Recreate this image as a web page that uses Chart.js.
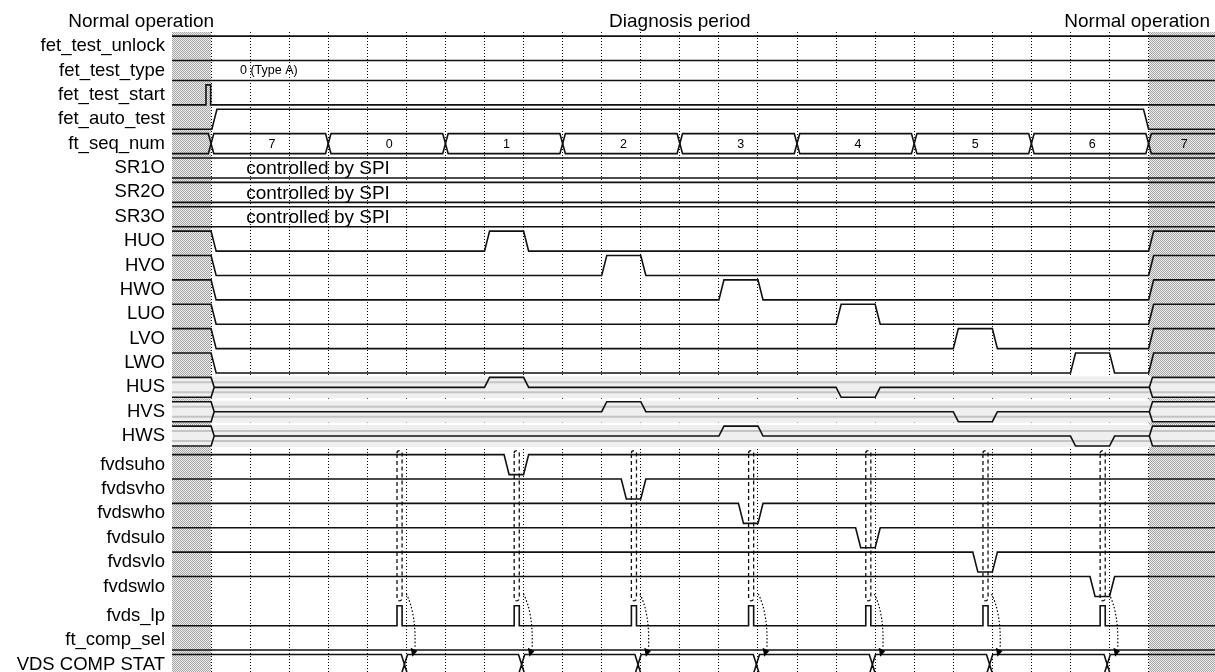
<!DOCTYPE html>
<html>
<head>
<meta charset="utf-8">
<script src="https://cdn.jsdelivr.net/npm/chart.js@4.4.1/dist/chart.umd.min.js"></script>
<style>
html, body { margin: 0; padding: 0; background: #fff; }
#wrap { width: 1215px; height: 672px; }
</style>
</head>
<body>
<div id="wrap"><canvas id="timing"></canvas></div>
<script>
// time axis in sequence-clock units, 0 = start of diagnosis
const T_MIN = -1;
const T_MAX = 25.7;
const PHASE_BOUNDS = [0, 24];
const GRID_TIMES = [0, 1, 2, 3, 4, 5, 6, 7, 8, 9, 10, 11, 12, 13, 14, 15, 16, 17, 18, 19, 20, 21, 22, 23, 24];

const SIGNALS = ['fet_test_unlock', 'fet_test_type', 'fet_test_start', 'fet_auto_test', 'ft_seq_num',
    'SR1O', 'SR2O', 'SR3O', 'HUO', 'HVO', 'HWO', 'LUO', 'LVO', 'LWO', 'HUS', 'HVS', 'HWS',
    'fvdsuho', 'fvdsvho', 'fvdswho', 'fvdsulo', 'fvdsvlo', 'fvdswlo', 'fvds_lp', 'ft_comp_sel', 'VDS COMP STAT'];
const PHASE_LABELS = ['Normal operation', 'Diagnosis period', 'Normal operation'];

const TEST_TYPE_TEXT = '0 (Type A)';
const SR_TEXT = 'controlled by SPI';

const SEQ_VALUES = ['7', '0', '1', '2', '3', '4', '5', '6', '7'];
const SEQ_CHANGES = [0, 3, 6, 9, 12, 15, 18, 21, 24];

const TEST_START_EDGES = [-0.13, -0.01];
const AUTO_TEST_EDGES = [0.02, 23.87];

// gate outputs: high in normal operation, one pulse per step
const HUO_EDGES = [0, 7, 8, 24];
const HVO_EDGES = [0, 10, 11, 24];
const HWO_EDGES = [0, 13, 14, 24];
const LUO_EDGES = [0, 16, 17, 24];
const LVO_EDGES = [0, 19, 20, 24];
const LWO_EDGES = [0, 22, 23, 24];

// phase voltages: mid level, up while high side on, down while low side on
const HUS_UP = [7, 8];
const HUS_DOWN = [16, 17];
const HVS_UP = [10, 11];
const HVS_DOWN = [19, 20];
const HWS_UP = [13, 14];
const HWS_DOWN = [22, 23];

// VDS comparator outputs (active low)
const FVDSUHO_EDGES = [7.5, 8.0];
const FVDSVHO_EDGES = [10.5, 11.0];
const FVDSWHO_EDGES = [13.5, 14.0];
const FVDSULO_EDGES = [16.5, 17.0];
const FVDSVLO_EDGES = [19.5, 20.0];
const FVDSWLO_EDGES = [22.5, 23.0];

const FVDS_LP_EDGES = [4.76, 4.89, 7.76, 7.89, 10.76, 10.89, 13.76, 13.89, 16.76, 16.89, 19.76, 19.89, 22.76, 22.89];
const COMP_CHANGES = [4.95, 7.95, 10.93, 13.96, 16.93, 19.93, 22.94];

// ---- layout helpers ----
const RAMP = 0.13;
const INK = '#111';

function slot(row) {
    // small extra gaps before the comparator block and before fvds_lp
    return row + (row >= 17 ? 0.17 : 0) + (row >= 23 ? 0.2 : 0);
}
function yOf(row, level) {
    return slot(row) + 0.41 - 0.82 * level;
}

function digital(row, level, edges, ramp = RAMP) {
    const pts = [{ x: T_MIN, y: yOf(row, level) }];
    edges.forEach(t => {
        pts.push({ x: t, y: yOf(row, level) });
        level = 1 - level;
        pts.push({ x: t + ramp, y: yOf(row, level) });
    });
    pts.push({ x: T_MAX, y: yOf(row, level) });
    return pts;
}

function bus(row, changes, w = 0.14) {
    const top = [{ x: T_MIN, y: yOf(row, 1) }];
    const bot = [{ x: T_MIN, y: yOf(row, 0) }];
    changes.forEach(t => {
        top.push({ x: t - w / 2, y: yOf(row, 1) }, { x: t, y: yOf(row, 0.5) }, { x: t + w / 2, y: yOf(row, 1) });
        bot.push({ x: t - w / 2, y: yOf(row, 0) }, { x: t, y: yOf(row, 0.5) }, { x: t + w / 2, y: yOf(row, 0) });
    });
    top.push({ x: T_MAX, y: yOf(row, 1) });
    bot.push({ x: T_MAX, y: yOf(row, 0) });
    return [top, bot];
}

function analog(row, up, down) {
    const start = PHASE_BOUNDS[0] + 0.08, end = PHASE_BOUNDS[1] + 0.02;
    const pts = [{ x: start, y: yOf(row, 0.5) }];
    const events = [[up[0], 1], [up[1], 0.5], [down[0], 0], [down[1], 0.5]];
    let lv = 0.5;
    events.forEach(([t, next]) => {
        pts.push({ x: t, y: yOf(row, lv) });
        lv = next;
        pts.push({ x: t + RAMP, y: yOf(row, lv) });
    });
    pts.push({ x: end, y: yOf(row, 0.5) });
    return pts;
}

function hexEnds(row) {
    const a = PHASE_BOUNDS[0], b = PHASE_BOUNDS[1];
    const left = [
        { x: T_MIN, y: yOf(row, 1) }, { x: a, y: yOf(row, 1) }, { x: a + 0.08, y: yOf(row, 0.5) },
        { x: a, y: yOf(row, 0) }, { x: T_MIN, y: yOf(row, 0) }
    ];
    const right = [
        { x: T_MAX, y: yOf(row, 1) }, { x: b + 0.1, y: yOf(row, 1) }, { x: b + 0.02, y: yOf(row, 0.5) },
        { x: b + 0.1, y: yOf(row, 0) }, { x: T_MAX, y: yOf(row, 0) }
    ];
    return [left, right];
}

function trace(data, extra) {
    return Object.assign({
        data: data, borderColor: INK, borderWidth: 1.6, pointRadius: 0,
        fill: false, tension: 0, order: 0
    }, extra || {});
}

// ---- datasets ----
const datasets = [];
datasets.push(trace(digital(0, 1, [])));
bus(1, []).forEach(d => datasets.push(trace(d)));
datasets.push(trace(digital(2, 0, TEST_START_EDGES, 0)));
datasets.push(trace(digital(3, 0, AUTO_TEST_EDGES)));
bus(4, SEQ_CHANGES).forEach(d => datasets.push(trace(d)));
[5, 6, 7].forEach(r => bus(r, []).forEach(d => datasets.push(trace(d))));

[HUO_EDGES, HVO_EDGES, HWO_EDGES, LUO_EDGES, LVO_EDGES, LWO_EDGES].forEach((e, i) => {
    datasets.push(trace(digital(8 + i, 1, e)));
});

[[HUS_UP, HUS_DOWN], [HVS_UP, HVS_DOWN], [HWS_UP, HWS_DOWN]].forEach(([up, down], i) => {
    const row = 14 + i;
    [0.75, 0.25].forEach(lv => {
        datasets.push(trace([{ x: T_MIN, y: yOf(row, lv) }, { x: T_MAX, y: yOf(row, lv) }],
            { borderColor: '#c4c4c4', borderWidth: 2, order: 2 }));
    });
    datasets.push(trace(analog(row, up, down)));
    hexEnds(row).forEach(d => datasets.push(trace(d)));
});

[FVDSUHO_EDGES, FVDSVHO_EDGES, FVDSWHO_EDGES, FVDSULO_EDGES, FVDSVLO_EDGES, FVDSWLO_EDGES].forEach((e, i) => {
    datasets.push(trace(digital(17 + i, 1, e)));
});
datasets.push(trace(digital(23, 0, FVDS_LP_EDGES, 0)));
datasets.push(trace(digital(24, 0, [])));
bus(25, COMP_CHANGES, 0.16).forEach(d => datasets.push(trace(d)));

// ---- plugins ----
function makeShade(ctx) {
    const c = document.createElement('canvas');
    c.width = 2; c.height = 2;
    const g = c.getContext('2d');
    g.fillStyle = '#eeeeee';
    g.fillRect(0, 0, 2, 2);
    g.fillStyle = '#a4a4a4';
    g.fillRect(0, 0, 1, 1);
    g.fillRect(1, 1, 1, 1);
    return ctx.createPattern(c, 'repeat');
}

const backdrop = {
    id: 'backdrop',
    beforeDatasetsDraw(chart) {
        const { ctx, chartArea: area, scales: { x, y } } = chart;
        ctx.save();
        ctx.fillStyle = makeShade(ctx);
        const a = Math.round(x.getPixelForValue(PHASE_BOUNDS[0]));
        const b = Math.round(x.getPixelForValue(PHASE_BOUNDS[1]));
        ctx.fillRect(area.left, area.top, a - area.left, area.bottom - area.top);
        ctx.fillRect(b, area.top, area.right - b, area.bottom - area.top);
        ctx.fillStyle = '#efefef';
        [14, 15, 16].forEach(row => {
            const t = y.getPixelForValue(yOf(row, 1)) - 1;
            const btm = y.getPixelForValue(yOf(row, 0)) + 1;
            ctx.fillRect(area.left, t, area.right - area.left, btm - t);
        });
        ctx.restore();
    }
};

const notes = {
    id: 'notes',
    afterDatasetsDraw(chart) {
        const { ctx, chartArea: area, scales: { x, y } } = chart;
        const px = v => x.getPixelForValue(v);
        const py = v => y.getPixelForValue(v);
        ctx.save();
        ctx.fillStyle = '#000';
        ctx.textBaseline = 'middle';

        // phase headers
        ctx.font = '19px "Liberation Sans", Arial, sans-serif';
        ctx.textAlign = 'right';
        ctx.fillText(PHASE_LABELS[0], px(PHASE_BOUNDS[0]) + 3, py(-1));
        ctx.textAlign = 'center';
        ctx.fillText(PHASE_LABELS[1], px((PHASE_BOUNDS[0] + PHASE_BOUNDS[1]) / 2), py(-1));
        ctx.textAlign = 'right';
        ctx.fillText(PHASE_LABELS[2], area.right - 5, py(-1));

        // SR outputs
        ctx.textAlign = 'left';
        [5, 6, 7].forEach(r => ctx.fillText(SR_TEXT, px(0.9), py(slot(r)) + 1));

        // small bus values
        ctx.font = '12.5px "Liberation Sans", Arial, sans-serif';
        ctx.fillText(TEST_TYPE_TEXT, px(0.74), py(slot(1)));
        ctx.textAlign = 'center';
        SEQ_VALUES.forEach((v, i) => {
            const s = SEQ_CHANGES[i];
            const e = i + 1 < SEQ_CHANGES.length ? SEQ_CHANGES[i + 1] : T_MAX;
            ctx.fillText(v, px((s + e) / 2 + 0.06), py(slot(4)) + 1);
        });

        // dashed links from comparator rows down to fvds_lp
        ctx.strokeStyle = INK;
        ctx.lineWidth = 1.3;
        ctx.setLineDash([4, 3]);
        for (let i = 0; i < FVDS_LP_EDGES.length; i += 2) {
            const x1 = px(FVDS_LP_EDGES[i]), x2 = px(FVDS_LP_EDGES[i + 1]);
            const y1 = py(yOf(17, 1) - 0.16), y2 = py(yOf(23, 1) - 0.2);
            const r = (x2 - x1) / 2;
            ctx.beginPath();
            ctx.moveTo(x1, y1 + r);
            ctx.arc(x1 + r, y1 + r, r, Math.PI, 0);
            ctx.lineTo(x2, y2 - r);
            ctx.arc(x1 + r, y2 - r, r, 0, Math.PI);
            ctx.closePath();
            ctx.stroke();
        }

        // dotted arrows from fvds_lp to the comparator status change
        COMP_CHANGES.forEach(c => {
            const top = yOf(25, 1);
            ctx.setLineDash([1.5, 2]);
            ctx.lineWidth = 1.2;
            ctx.strokeStyle = '#000';
            ctx.beginPath();
            ctx.moveTo(px(c + 0.05), py(yOf(22, 0) - 0.1));
            ctx.quadraticCurveTo(px(c + 0.3), py(yOf(23, 0.6)), px(c + 0.27), py(top - 0.3));
            ctx.stroke();
            ctx.setLineDash([]);
            ctx.fillStyle = '#000';
            ctx.beginPath();
            ctx.moveTo(px(c + 0.33), py(top - 0.14));
            ctx.lineTo(px(c + 0.16), py(top - 0.27));
            ctx.lineTo(px(c + 0.2), py(top + 0.09));
            ctx.closePath();
            ctx.fill();
        });
        ctx.restore();
    }
};

new Chart(document.getElementById('timing'), {
    type: 'line',
    data: { datasets: datasets },
    plugins: [backdrop, notes],
    options: {
        responsive: true,
        maintainAspectRatio: false,
        animation: false,
        events: [],
        layout: { padding: { top: 32, right: 0, bottom: 0, left: 0 } },
        plugins: {
            legend: { display: false },
            tooltip: { enabled: false }
        },
        scales: {
            x: {
                type: 'linear',
                min: T_MIN,
                max: T_MAX,
                afterBuildTicks: scale => { scale.ticks = GRID_TIMES.map(v => ({ value: v })); },
                afterFit: scale => {
                    scale.height = 0;
                    scale.paddingLeft = 0;
                    scale.paddingRight = 0;
                },
                ticks: { display: false },
                grid: { color: '#000', lineWidth: 1, drawTicks: false },
                border: { display: false, dash: [1, 2] }
            },
            y: {
                type: 'linear',
                reverse: true,
                min: -0.579,
                max: 25.68,
                afterBuildTicks: scale => { scale.ticks = SIGNALS.map((s, i) => ({ value: slot(i) })); },
                afterFit: scale => {
                    scale.width = 172;
                    scale.paddingTop = 0;
                    scale.paddingBottom = 0;
                },
                ticks: {
                    autoSkip: false,
                    padding: 7,
                    color: '#000',
                    font: { family: '"Liberation Sans", Arial, sans-serif', size: 18.5 },
                    callback: (v, i) => SIGNALS[i]
                },
                grid: { display: false, drawTicks: false },
                border: { display: false }
            }
        }
    }
});
</script>
</body>
</html>
